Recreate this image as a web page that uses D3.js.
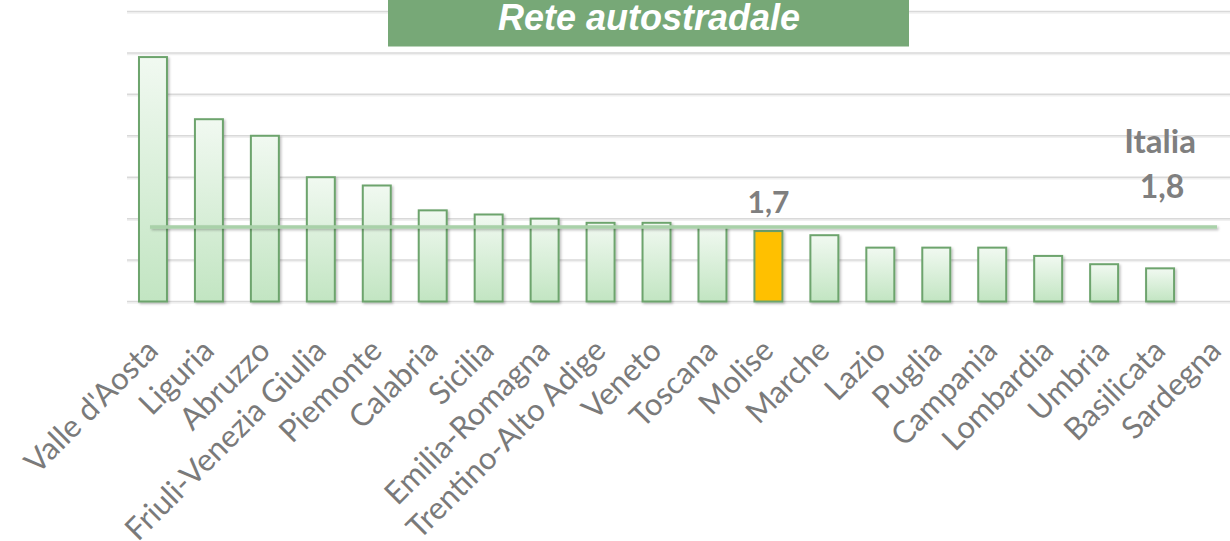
<!DOCTYPE html>
<html lang="it">
<head>
  <meta charset="UTF-8">
  <title>Rete autostradale</title>
  <script src="https://d3js.org/d3.v7.min.js"></script>
  <style>
    body { margin: 0; background: #fff; }
    svg { display: block; }
  </style>
</head>
<body>
  <div class="canvas"></div>
  <script>
    // data
    const regions = ["Valle d'Aosta", "Liguria", "Abruzzo", "Friuli-Venezia Giulia", "Piemonte",
      "Calabria", "Sicilia", "Emilia-Romagna", "Trentino-Alto Adige", "Veneto", "Toscana",
      "Molise", "Marche", "Lazio", "Puglia", "Campania", "Lombardia", "Umbria", "Basilicata", "Sardegna"];
    const values = [5.9, 4.4, 4.0, 3.0, 2.8, 2.2, 2.1, 2.0, 1.9, 1.9, 1.8,
      1.7, 1.6, 1.3, 1.3, 1.3, 1.1, 0.9, 0.8, null];
    const italia = 1.8;
    const highlight = "Molise";
    const yTicks = [0, 1, 2, 3, 4, 5, 6, 7];
    const title = "Rete autostradale";

    const width = 1230;
    const height = 541;

    const data = regions.map((r, i) => ({ name: r, value: values[i] }));
    const it = d3.formatLocale({ decimal: ",", thousands: ".", grouping: [3], currency: ["€", ""] }).format(".1f");

    const svg = d3.select('.canvas')
      .append('svg')
      .attr('width', width)
      .attr('height', height);

    const defs = svg.append('defs');
    const grad = defs.append('linearGradient')
      .attr('id', 'barFill')
      .attr('x1', 0).attr('y1', 0).attr('x2', 0).attr('y2', 1);
    grad.append('stop').attr('offset', '0%').attr('stop-color', '#f1f9f1');
    grad.append('stop').attr('offset', '100%').attr('stop-color', '#c2e5c2');

    // one shadow filter in page units, so a flat line still gets it
    const shadow = defs.append('filter').attr('id', 'shadow')
      .attr('filterUnits', 'userSpaceOnUse')
      .attr('x', 0).attr('y', 0).attr('width', width).attr('height', height);
    shadow.append('feDropShadow')
      .attr('dx', 1.5).attr('dy', 1.5).attr('stdDeviation', 1)
      .attr('flood-color', '#000').attr('flood-opacity', 0.25);

    const x = d3.scaleBand()
      .domain(regions)
      .range([125, 1244])
      .paddingInner(0.5)
      .paddingOuter(0.25);

    const y = d3.scaleLinear()
      .domain([0, 7])
      .range([301.5, 11.5]);

    // gridlines
    const grid = svg.append('g').attr('class', 'grid');
    grid.selectAll('line.shade')
      .data(yTicks)
      .enter()
      .append('line')
      .attr('class', 'shade')
      .attr('x1', 127).attr('x2', width)
      .attr('y1', d => y(d) + 1.5).attr('y2', d => y(d) + 1.5)
      .attr('stroke', '#f0f0f0').attr('stroke-width', 1.5);
    grid.selectAll('line.main')
      .data(yTicks)
      .enter()
      .append('line')
      .attr('class', 'main')
      .attr('x1', 127).attr('x2', width)
      .attr('y1', d => y(d)).attr('y2', d => y(d))
      .attr('stroke', '#d9d9d9').attr('stroke-width', 1.5);

    // bars
    svg.append('g')
      .selectAll('rect')
      .data(data.filter(d => d.value != null))
      .enter()
      .append('rect')
      .attr('x', d => x(d.name))
      .attr('y', d => y(d.value))
      .attr('width', x.bandwidth())
      .attr('height', d => y(0) - y(d.value))
      .attr('fill', d => d.name === highlight ? '#ffc000' : 'url(#barFill)')
      .attr('stroke', '#6da46d')
      .attr('stroke-width', 2)
      .attr('filter', 'url(#shadow)');

    // Italia average line
    const first = regions[0], last = regions[regions.length - 1];
    svg.append('line')
      .attr('x1', x(first) + x.bandwidth() / 2 - 3)
      .attr('x2', x(last) + x.bandwidth() / 2 + 1)
      .attr('y1', y(italia)).attr('y2', y(italia))
      .attr('stroke', '#a9d1a9')
      .attr('stroke-width', 3.5)
      .attr('filter', 'url(#shadow)');

    // x axis labels
    const xAxis = d3.axisBottom(x).tickSize(0);
    const xAxisG = svg.append('g')
      .attr('class', 'x-axis')
      .attr('transform', `translate(0, ${y(0)})`)
      .call(xAxis);
    xAxisG.select('.domain').remove();
    xAxisG.selectAll('text')
      .attr('x', 0).attr('y', 0).attr('dy', 0)
      .attr('transform', 'translate(7, 51) rotate(-45)')
      .attr('text-anchor', 'end')
      .attr('font-family', 'Lato, sans-serif')
      .attr('font-size', 31)
      .attr('fill', '#7a7a7a');

    // value label over highlighted bar
    const hv = values[regions.indexOf(highlight)];
    svg.append('text')
      .attr('x', x(highlight) + x.bandwidth() / 2)
      .attr('y', y(hv) - 18)
      .attr('text-anchor', 'middle')
      .attr('font-family', 'Lato, sans-serif')
      .attr('font-weight', 'bold')
      .attr('font-size', 30)
      .attr('fill', '#7f7f7f')
      .text(it(hv));

    // Italia label
    const labX = x(regions[regions.length - 2]) + x.bandwidth() / 2;
    svg.append('text')
      .attr('x', labX)
      .attr('y', y(italia) - 74)
      .attr('text-anchor', 'middle')
      .attr('font-family', 'Lato, sans-serif')
      .attr('font-weight', 'bold')
      .attr('font-size', 33)
      .attr('fill', '#7f7f7f')
      .text('Italia');
    svg.append('text')
      .attr('x', labX + 2)
      .attr('y', y(italia) - 29)
      .attr('text-anchor', 'middle')
      .attr('font-family', 'Lato, sans-serif')
      .attr('font-weight', 'bold')
      .attr('font-size', 32)
      .attr('fill', '#7f7f7f')
      .text(it(italia));

    // title box
    svg.append('rect')
      .attr('x', 388).attr('y', 0)
      .attr('width', 521).attr('height', 46.5)
      .attr('fill', '#77a877');
    svg.append('text')
      .attr('x', 649).attr('y', 30)
      .attr('text-anchor', 'middle')
      .attr('font-family', '"Liberation Sans", Arial, sans-serif')
      .attr('font-weight', 'bold')
      .attr('font-style', 'italic')
      .attr('font-size', 36)
      .attr('fill', '#fff')
      .text(title);
  </script>
</body>
</html>
